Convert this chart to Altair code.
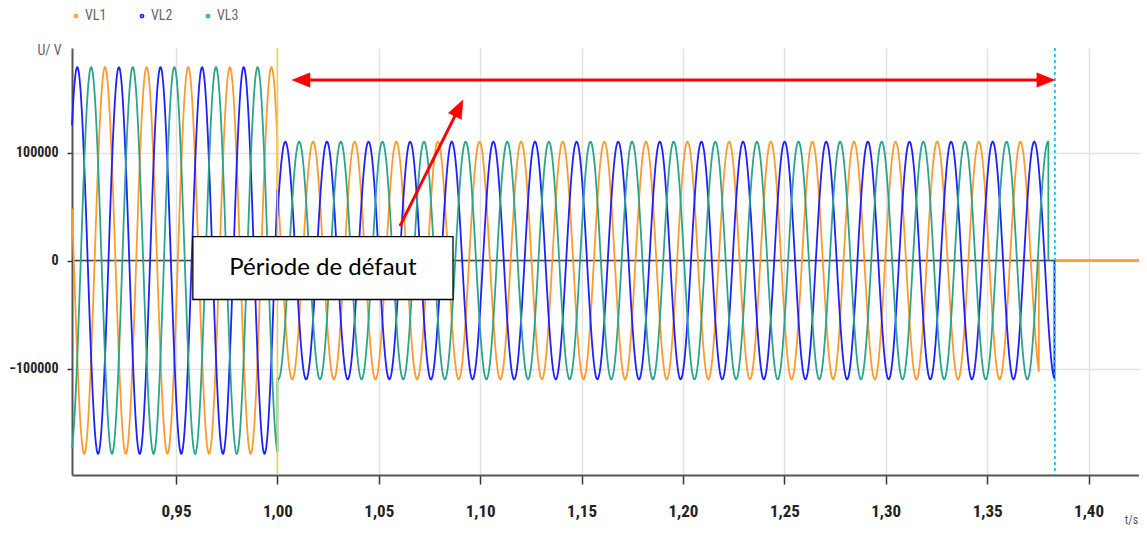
import numpy as np
import pandas as pd
import altair as alt

# ---- values ----
series_names = ["VL1", "VL2", "VL3"]
series_colors = ["#ff9a2e", "#1f1fff", "#2aa58a"]
peak_delay_periods = [2 / 3, 0.0, 1 / 3]      # peak delay of each phase vs VL2, in periods
t_first_peak_vl2 = 0.9013                     # s
period = 0.02052                              # s
amp_prefault = 179000                         # V
amp_fault = 110000                            # V
t_start = 0.8987
t_fault = 1.000
t_cut = [1.3755, 1.3832, 1.3802]              # each phase drops to 0
t_fault_end = 1.3834                          # dashed cyan line
t_end = 1.4249
x_ticks = [0.95, 1.00, 1.05, 1.10, 1.15, 1.20, 1.25, 1.30, 1.35, 1.40]
y_ticks = [-100000, 0, 100000]
y_domain = [-198600, 196760]

note_text = "Période de défaut"
note_box_t = [0.9583, 1.0866]
note_box_u = [22200, -36100]
arrow_h_t = [1.0072, 1.3834]
arrow_h_u = 167100
arrow_d_t = [1.0604, 1.0915]
arrow_d_u = [31900, 148600]

# ---- layout ----
W, H = 1067, 427
PAD = {"left": 64, "top": 40, "right": 0, "bottom": 55}
px_t = W / (t_end - t_start)
px_u = H / (y_domain[1] - y_domain[0])

narrow = "Liberation Sans Narrow, Arial Narrow, Roboto Condensed, DejaVu Sans Condensed, Liberation Sans, sans-serif"

# ---- wave table ----
dt = 0.00025
rows = []
for name, delay, tc in zip(series_names, peak_delay_periods, t_cut):
    def val(t, amp):
        return amp * np.cos(2 * np.pi * ((t - t_first_peak_vl2) / period - delay))
    t1 = np.arange(t_start, t_fault, dt)
    t1 = np.append(t1, t_fault)
    t2 = np.arange(t_fault, tc, dt)
    t2 = np.append(t2, tc)
    seq = [(t, val(t, amp_prefault)) for t in t1] + [(t, val(t, amp_fault)) for t in t2] + [(tc, 0.0)]
    for i, (t, u) in enumerate(seq):
        rows.append({"t": float(t), "u": float(u), "serie": name, "seg": 0, "k": i})
    if name == "VL1":
        rows.append({"t": t_fault_end, "u": 0.0, "serie": name, "seg": 1, "k": 0})
        rows.append({"t": t_end, "u": 0.0, "serie": name, "seg": 1, "k": 1})
waves = pd.DataFrame(rows)

xs = alt.Scale(domain=[t_start, t_end], nice=False, zero=False)
ys = alt.Scale(domain=y_domain, nice=False, zero=False)

x_axis = alt.Axis(values=x_ticks, labelExpr="replace(format(datum.value, '.2f'), '.', ',')",
                  grid=True, gridColor="#e2e2e2", gridWidth=1.5,
                  domainColor="#555555", domainWidth=2, tickColor="#333333", tickSize=9, tickWidth=1.5,
                  labelFont=narrow, labelFontSize=17, labelFontWeight="bold", labelColor="#222222",
                  labelPadding=19, labelFlush=False, labelOverlap=False,
                  title="t/s", titleX=1059, titleY=44, titleFont=narrow, titleFontSize=12,
                  titleFontWeight="normal", titleColor="#555555", titleAlign="center", titleBaseline="middle")
y_axis = alt.Axis(values=y_ticks, format="d", grid=True, gridColor="#e2e2e2", gridWidth=1.5,
                  domainColor="#555555", domainWidth=2, tickColor="#333333", tickSize=5, tickWidth=1.5,
                  labelFont=narrow, labelFontSize=14, labelFontWeight="bold", labelColor="#222222",
                  labelPadding=9,
                  title="U/ V", titleX=-23, titleY=2, titleAngle=0, titleFont=narrow, titleFontSize=14,
                  titleFontWeight="normal", titleColor="#666666", titleAlign="center", titleBaseline="middle")

X = lambda f="t:Q": alt.X(f, scale=xs)
Y = lambda f="u:Q": alt.Y(f, scale=ys)

wave_layer = alt.Chart(waves).mark_line(strokeWidth=1.8, interpolate="linear").encode(
    x=alt.X("t:Q", scale=xs, axis=x_axis),
    y=alt.Y("u:Q", scale=ys, axis=y_axis),
    color=alt.Color("serie:N", scale=alt.Scale(domain=series_names, range=series_colors),
                    legend=alt.Legend(orient="none", legendX=-3, legendY=-39, direction="horizontal",
                                      title=None, symbolType="circle", symbolSize=3,
                                      symbolStrokeWidth=3, symbolOffset=0, labelOffset=2,
                                      labelFont=narrow, labelFontSize=14, labelColor="#666666",
                                      columnPadding=28, padding=0)),
    detail="seg:N",
    order="k:Q",
)

zero_df = pd.DataFrame({"u": [0.0]})
zero_rule = alt.Chart(zero_df).mark_rule(color="#444444", strokeWidth=1.5).encode(y=Y())

yellow = alt.Chart(pd.DataFrame({"t": [t_fault]})).mark_rule(color="#e3da3a", strokeWidth=1.5).encode(x=X())
cyan = alt.Chart(pd.DataFrame({"t": [t_fault_end]})).mark_rule(
    color="#2bb5e6", strokeWidth=1.8, strokeDash=[3, 3]).encode(x=X())

box_df = pd.DataFrame({"t": [note_box_t[0]], "t2": [note_box_t[1]], "u": [note_box_u[0]], "u2": [note_box_u[1]]})
box = alt.Chart(box_df).mark_rect(fill="white", stroke="black", strokeWidth=1.3).encode(
    x=X(), x2="t2:Q", y=Y(), y2="u2:Q")
note_df = pd.DataFrame({"t": [sum(note_box_t) / 2], "u": [sum(note_box_u) / 2], "txt": [note_text]})
note = alt.Chart(note_df).mark_text(font="Lato", fontSize=24, color="black", align="center",
                                    baseline="middle").encode(x=X(), y=Y(), text="txt:N")

# arrows
head = 18
h_df = pd.DataFrame({"t": [arrow_h_t[0] + head / px_t * 0.6], "t2": [arrow_h_t[1] - head / px_t * 0.6],
                     "u": [arrow_h_u]})
h_shaft = alt.Chart(h_df).mark_rule(color="#ff0000", strokeWidth=3).encode(x=X(), x2="t2:Q", y=Y())
dx_px = (arrow_d_t[1] - arrow_d_t[0]) * px_t
dy_px = (arrow_d_u[1] - arrow_d_u[0]) * px_u
L = (dx_px ** 2 + dy_px ** 2) ** 0.5
back = head * 0.6 / L
d_df = pd.DataFrame({"t": [arrow_d_t[0]], "u": [arrow_d_u[0]],
                     "t2": [arrow_d_t[1] - back * (arrow_d_t[1] - arrow_d_t[0])],
                     "u2": [arrow_d_u[1] - back * (arrow_d_u[1] - arrow_d_u[0])]})
d_shaft = alt.Chart(d_df).mark_rule(color="#ff0000", strokeWidth=3).encode(x=X(), x2="t2:Q", y=Y(), y2="u2:Q")

head_path = "M0,0L-2,-0.8L-2,0.8Z"
ang_d = (np.degrees(np.arctan2(-dy_px, dx_px)) + 360) % 360
heads_df = pd.DataFrame({"t": [arrow_h_t[0], arrow_h_t[1], arrow_d_t[1]],
                         "u": [arrow_h_u, arrow_h_u, arrow_d_u[1]],
                         "ang": [180.0, 0.0, float(ang_d)]})
heads = alt.Chart(heads_df).mark_point(shape=head_path, filled=True, fill="#ff0000", stroke="#ff0000",
                                       strokeWidth=0.5, opacity=1, size=head ** 2).encode(
    x=X(), y=Y(), angle=alt.Angle("ang:Q", scale=None))

chart = alt.layer(zero_rule, wave_layer, yellow, cyan, box, note, h_shaft, d_shaft, heads).properties(
    width=W, height=H, autosize=alt.AutoSizeParams(type="none"), padding=PAD, background="white"
).configure_view(stroke=None)

chart.save("out.html", embed_options={"renderer": "svg", "actions": False})
